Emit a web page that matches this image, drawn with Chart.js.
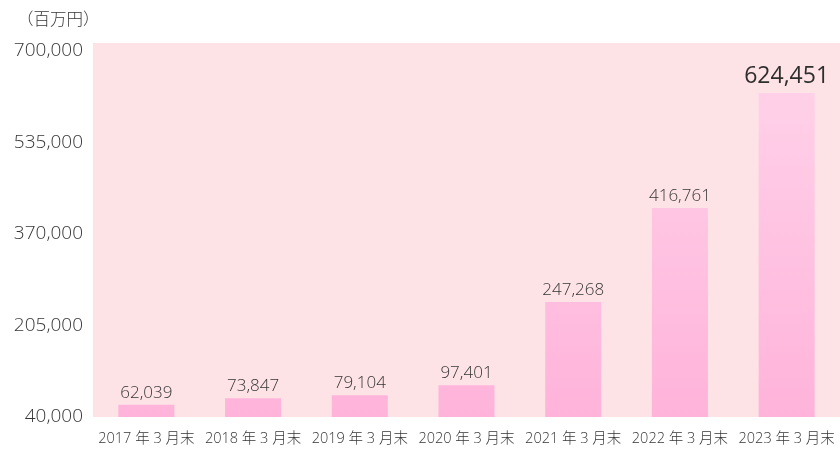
<!DOCTYPE html>
<html><head><meta charset="utf-8">
<script src="https://cdn.jsdelivr.net/npm/chart.js@4/dist/chart.umd.min.js"></script>
<style>html,body{margin:0;padding:0;background:#fff;}#wrap{width:840px;height:450px;position:relative;}</style>
</head><body><div id="wrap"><canvas id="c" width="840" height="450"></canvas></div>
<script>
const categories = ["2017 年 3 月末","2018 年 3 月末","2019 年 3 月末","2020 年 3 月末","2021 年 3 月末","2022 年 3 月末","2023 年 3 月末"];
const values = [62039, 73847, 79104, 97401, 247268, 416761, 624451];
const yTicks = [40000, 205000, 370000, 535000, 700000];
const unitLabel = "（百万円）";

const FONT = "'Open Sans', 'Noto Sans CJK JP', sans-serif";
const TXT = "#363636";

const bgPlugin = {
  id: 'bg',
  beforeDraw(chart) {
    const {ctx, chartArea: a} = chart;
    ctx.save();
    ctx.fillStyle = '#fee3e6';
    ctx.fillRect(a.left, a.top - 8, chart.width - a.left, a.bottom - a.top + 8);
    ctx.restore();
  },
  afterDraw(chart) {
    const {ctx} = chart;
    ctx.save();
    ctx.font = "300 16.5px " + FONT;
    ctx.fillStyle = TXT;
    ctx.textAlign = 'left';
    ctx.textBaseline = 'middle';
    ctx.fillText(unitLabel, 17, 20);
    const meta = chart.getDatasetMeta(0);
    meta.data.forEach((bar, i) => {
      const last = i === values.length - 1;
      ctx.font = (last ? "400 23px " : "300 17px ") + FONT;
      ctx.textAlign = 'center';
      ctx.textBaseline = 'middle';
      ctx.fillStyle = last ? '#2e2e2e' : TXT;
      ctx.fillText(values[i].toLocaleString('en-US'), bar.x, bar.y - (last ? 16 : 12));
    });
    ctx.restore();
  }
};

const ctx = document.getElementById('c').getContext('2d');
new Chart(ctx, {
  type: 'bar',
  data: {
    labels: categories,
    datasets: [{
      data: values,
      backgroundColor: (c) => {
        const a = c.chart.chartArea;
        if (!a) return '#ffc4e2';
        const g = c.chart.ctx.createLinearGradient(0, a.top, 0, a.bottom);
        g.addColorStop(0, '#ffd4ea');
        g.addColorStop(1, '#ffb3da');
        return g;
      },
      borderWidth: 0,
      barPercentage: 0.525,
      categoryPercentage: 1.0
    }]
  },
  options: {
    responsive: false,
    animation: false,
    layout: {padding: {top: 51, right: 0, left: 0, bottom: 0}},
    plugins: {legend: {display: false}, tooltip: {enabled: false}},
    scales: {
      x: {
        afterFit: (s) => { s.height = 33; s.paddingLeft = 0; s.paddingRight = 0; },
        grid: {display: false, drawTicks: false},
        border: {display: false},
        ticks: {color: TXT, font: {family: FONT, size: 14.5, weight: 300}, padding: 13, maxRotation: 0, autoSkip: false}
      },
      y: {
        min: 40000, max: 700000,
        afterBuildTicks: (s) => { s.ticks = yTicks.map(v => ({value: v})); },
        afterFit: (s) => { s.width = 93; },
        grid: {display: false, drawTicks: false},
        border: {display: false},
        ticks: {color: TXT, font: {family: FONT, size: 19, weight: 300}, padding: 10,
          callback: (v) => v.toLocaleString('en-US')}
      }
    }
  },
  plugins: [bgPlugin]
});
</script></body></html>
